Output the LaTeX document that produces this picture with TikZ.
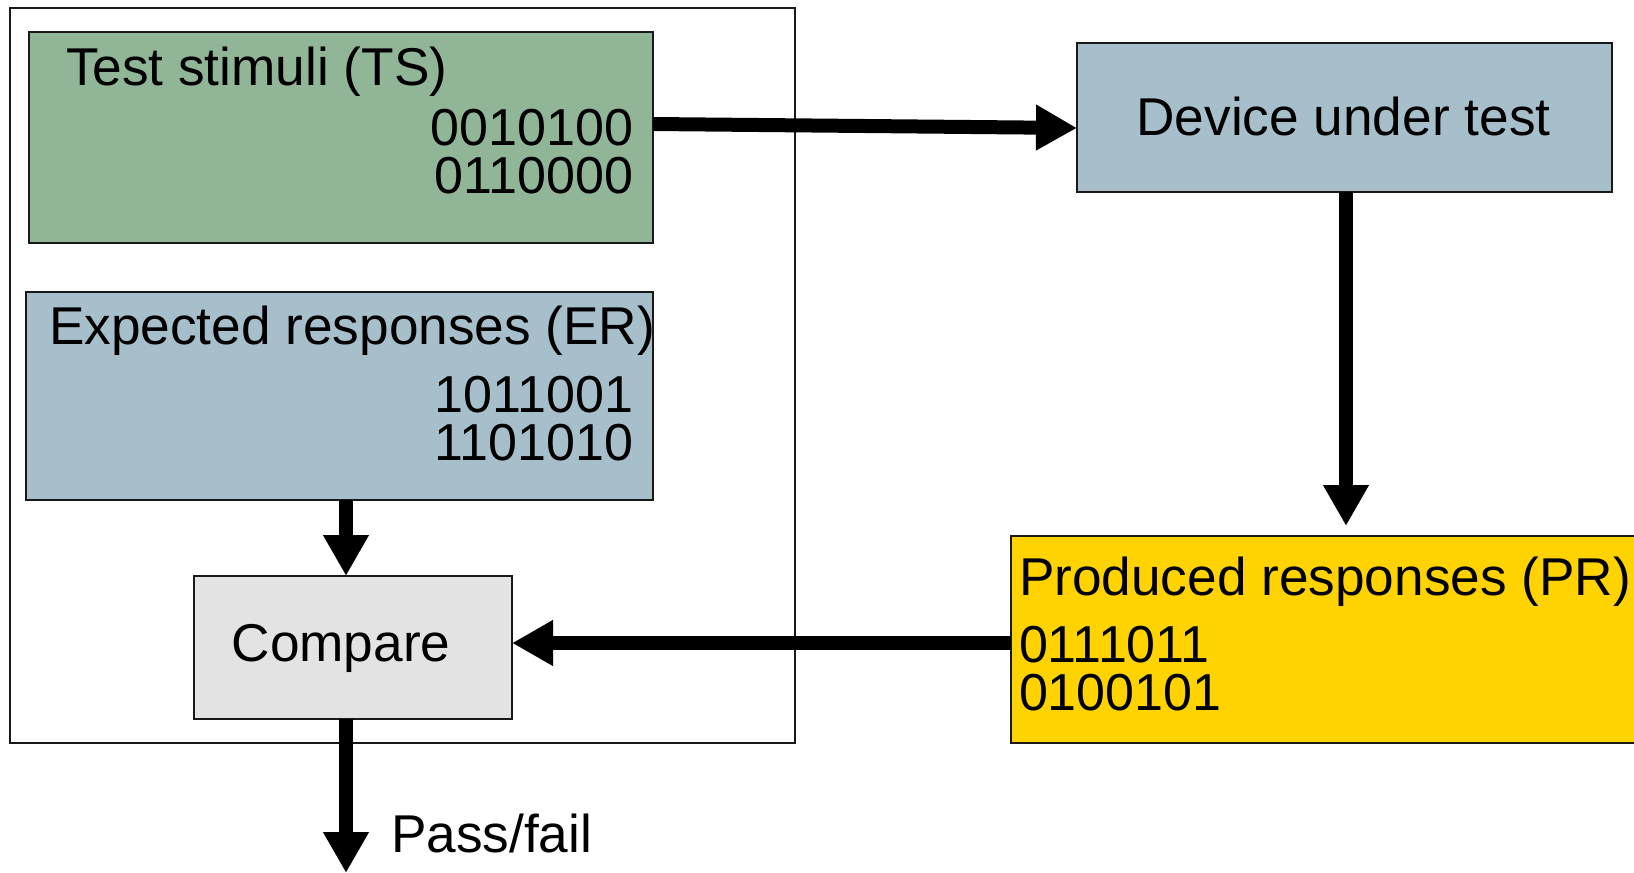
\documentclass[tikz,border=0pt]{standalone}
\usepackage{fontspec}
\setmainfont{Liberation Sans}
\usetikzlibrary{arrows.meta,calc}

\definecolor{tsgreen}{RGB}{145,181,151}
\definecolor{slateblue}{RGB}{167,191,203}
\definecolor{cmpgray}{RGB}{227,227,227}
\definecolor{pryellow}{RGB}{255,211,0}
\definecolor{edge}{RGB}{25,25,25}

\tikzset{
  box/.style={draw=edge, line width=2pt, rectangle, inner sep=0pt, outer sep=0pt, anchor=north west},
  frame/.style={draw=edge, line width=2pt, rectangle, inner sep=0pt, outer sep=0pt, anchor=north west},
  txt/.style={inner sep=0pt, outer sep=0pt, font=\fontsize{53.2}{58}\selectfont},
  bits/.style={inner sep=0pt, outer sep=0pt, font=\fontsize{52}{48}\selectfont},
  conn/.style={line width=14pt, -{Triangle[length=41pt,width=43pt]}},
}

\begin{document}
\begin{tikzpicture}[x=1pt, y=-1pt]
  \useasboundingbox[fill=white] (0,0) rectangle (1634,873);

  % tester enclosure
  \node[frame, minimum width=785pt, minimum height=735pt] (frame) at (10,8) {};

  % stored vectors
  \node[box, fill=tsgreen, minimum width=624pt, minimum height=211pt] (ts) at (29,32) {};
  \node[txt, anchor=base west] (tstitle) at (66,85) {Test stimuli (TS)};
  \node[bits, align=right, anchor=north east] (tsbits) at (633,109.5) {0010100\\0110000};

  \node[box, fill=slateblue, minimum width=627pt, minimum height=208pt] (er) at (26,292) {};
  \node[txt, anchor=base west] (ertitle) at (49,344) {Expected responses (ER)};
  \node[bits, align=right, anchor=north east] (erbits) at (633,376) {1011001\\1101010};

  % comparator
  \node[box, fill=cmpgray, minimum width=318pt, minimum height=143pt] (cmp) at (194,576) {};
  \node[txt, anchor=base] (cmptxt) at (341,661.5) {Compare};

  % device side
  \node[box, fill=slateblue, minimum width=535pt, minimum height=149pt] (dut) at (1077,43) {};
  \node[txt, anchor=base] (duttxt) at (1343.5,135) {Device under test};

  \node[box, fill=pryellow, minimum width=640pt, minimum height=207pt] (pr) at (1011,536) {};
  \node[txt, anchor=base west] (prtitle) at (1019,595) {Produced responses (PR)};
  \node[bits, align=left, anchor=north west] (prbits) at (1019,626.5) {0111011\\0100101};

  % connectors
  \coordinate (ax) at (346,0);
  \coordinate (out) at (346,873);
  \draw[conn] ($(ts.east)+(0,-13.5)$) -- ($(dut.west)+(0,10.5)$);
  \draw[conn] (dut.south -| 1346,0) -- ($(pr.north -| 1346,0)+(0,-10)$);
  \draw[conn] ($(pr.west)+(0,3.5)$) -- ($(cmp.east)+(0,-4.5)$);
  \draw[conn] (er.south -| ax) -- (cmp.north -| ax);
  \draw[conn] (cmp.south -| ax) -- (out);
  \node[txt, anchor=base west] (verdict) at (391,852) {Pass/fail};
\end{tikzpicture}
\end{document}
